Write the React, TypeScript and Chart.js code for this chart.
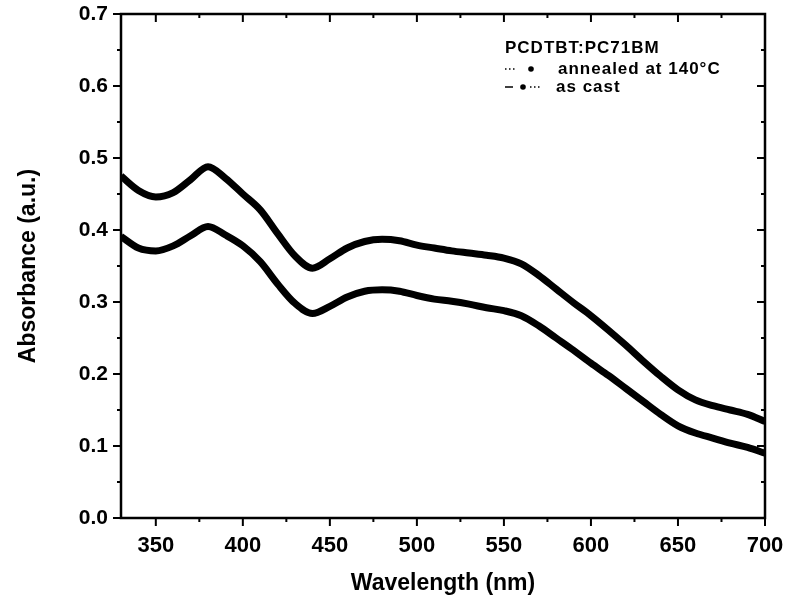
import React, { useEffect, useRef } from "react";
import { Chart, registerables } from "chart.js";

Chart.register(...registerables);

const wavelengths = [330, 340, 350, 360, 370, 380, 390, 400, 410, 420, 430, 440, 450, 460, 470, 480, 490, 500, 510, 520, 530, 540, 550, 560, 570, 580, 590, 600, 610, 620, 630, 640, 650, 660, 670, 680, 690, 700];
const annealed = [0.475, 0.455, 0.446, 0.452, 0.470, 0.488, 0.472, 0.450, 0.428, 0.395, 0.364, 0.347, 0.360, 0.375, 0.384, 0.387, 0.385, 0.379, 0.375, 0.371, 0.368, 0.365, 0.361, 0.353, 0.337, 0.318, 0.299, 0.281, 0.261, 0.240, 0.218, 0.197, 0.178, 0.164, 0.156, 0.150, 0.144, 0.134];
const asCast = [0.391, 0.375, 0.371, 0.378, 0.392, 0.405, 0.393, 0.378, 0.356, 0.325, 0.298, 0.284, 0.294, 0.307, 0.315, 0.317, 0.315, 0.309, 0.304, 0.301, 0.297, 0.292, 0.288, 0.281, 0.267, 0.250, 0.233, 0.215, 0.198, 0.180, 0.162, 0.144, 0.128, 0.118, 0.111, 0.104, 0.098, 0.090];
const legendTitle = "PCDTBT:PC71BM";
const seriesNames = ["annealed at 140°C", "as cast"];
const xMajor = [350, 400, 450, 500, 550, 600, 650, 700];
const xMinor = [375, 425, 475, 525, 575, 625, 675];
const yMajor = [0, 0.1, 0.2, 0.3, 0.4, 0.5, 0.6, 0.7];
const yMinor = [0.05, 0.15, 0.25, 0.35, 0.45, 0.55, 0.65];

const FONT = "'Liberation Sans', Arial, sans-serif";

const frameTicks = {
  id: "frameTicks",
  afterDraw(chart: any) {
    const ctx = chart.ctx;
    const x = chart.scales.x;
    const y = chart.scales.y;
    const { left, right, top, bottom } = chart.chartArea;
    ctx.save();
    ctx.strokeStyle = "#000";
    ctx.lineWidth = 2.5;
    ctx.strokeRect(left, top, right - left, bottom - top);
    ctx.lineWidth = 2;
    const major = 8, minor = 4;
    ctx.beginPath();
    xMajor.forEach((v) => {
      const px = x.getPixelForValue(v);
      ctx.moveTo(px, bottom); ctx.lineTo(px, bottom + major);
      ctx.moveTo(px, top); ctx.lineTo(px, top + major);
    });
    xMinor.forEach((v) => {
      const px = x.getPixelForValue(v);
      ctx.moveTo(px, bottom); ctx.lineTo(px, bottom + minor);
      ctx.moveTo(px, top); ctx.lineTo(px, top + minor);
    });
    yMajor.forEach((v) => {
      const py = y.getPixelForValue(v);
      ctx.moveTo(left, py); ctx.lineTo(left - major, py);
      ctx.moveTo(right, py); ctx.lineTo(right - major, py);
    });
    yMinor.forEach((v) => {
      const py = y.getPixelForValue(v);
      ctx.moveTo(left, py); ctx.lineTo(left - minor, py);
      ctx.moveTo(right, py); ctx.lineTo(right - minor, py);
    });
    ctx.stroke();

    // legend
    ctx.fillStyle = "#000";
    ctx.textBaseline = "middle";
    ctx.textAlign = "left";
    ctx.font = `bold 17px ${FONT}`;
    try { (ctx as any).letterSpacing = "1px"; } catch (e) {}
    ctx.fillText(legendTitle, 505, 48);
    ctx.fillText(seriesNames[0], 558, 69);
    ctx.fillText(seriesNames[1], 556, 87);
    try { (ctx as any).letterSpacing = "0px"; } catch (e) {}
    // samples
    ctx.lineWidth = 1.5;
    ctx.setLineDash([1.5, 2.5]);
    ctx.beginPath();
    ctx.moveTo(505, 69); ctx.lineTo(516, 69);
    ctx.moveTo(530, 87); ctx.lineTo(540, 87);
    ctx.stroke();
    ctx.setLineDash([]);
    ctx.beginPath();
    ctx.moveTo(505, 87); ctx.lineTo(513, 87);
    ctx.stroke();
    ctx.beginPath();
    ctx.arc(531, 69, 2.8, 0, Math.PI * 2);
    ctx.fill();
    ctx.beginPath();
    ctx.arc(523, 87, 2.8, 0, Math.PI * 2);
    ctx.fill();
    ctx.restore();
  },
};

export default function App() {
  const ref = useRef<HTMLCanvasElement>(null);
  useEffect(() => {
    if (!ref.current) return;
    const chart = new Chart(ref.current, {
      type: "line",
      data: {
        datasets: [
          {
            label: seriesNames[0],
            data: wavelengths.map((w, i) => ({ x: w, y: annealed[i] })),
            borderColor: "#000",
            borderWidth: 7,
            pointRadius: 0,
            tension: 0.4,
            cubicInterpolationMode: "monotone",
          },
          {
            label: seriesNames[1],
            data: wavelengths.map((w, i) => ({ x: w, y: asCast[i] })),
            borderColor: "#000",
            borderWidth: 7,
            pointRadius: 0,
            tension: 0.4,
            cubicInterpolationMode: "monotone",
          },
        ],
      },
      options: {
        animation: false,
        responsive: false,
        layout: { padding: { top: 14, right: 22, left: 0, bottom: 0 } },
        plugins: { legend: { display: false }, tooltip: { enabled: false } },
        scales: {
          x: {
            type: "linear",
            min: 330,
            max: 700,
            afterBuildTicks: (s: any) => {
              s.ticks = xMajor.map((v) => ({ value: v }));
            },
            afterFit: (s: any) => {
              s.height = 85;
              s.paddingLeft = 0;
              s.paddingRight = 0;
            },
            grid: { display: false, drawTicks: false },
            border: { display: false },
            ticks: {
              padding: 15,
              color: "#000",
              font: { family: FONT, size: 22, weight: "bold" },
              maxRotation: 0,
            },
            title: {
              display: true,
              text: "Wavelength (nm)",
              color: "#000",
              font: { family: FONT, size: 23, weight: "bold" },
              padding: { top: 6, bottom: 6 },
            },
          },
          y: {
            min: 0,
            max: 0.7,
            afterBuildTicks: (s: any) => {
              s.ticks = yMajor.map((v) => ({ value: v }));
            },
            afterFit: (s: any) => {
              s.width = 121;
              s.paddingTop = 0;
              s.paddingBottom = 0;
            },
            grid: { display: false, drawTicks: false },
            border: { display: false },
            ticks: {
              padding: 13,
              color: "#000",
              font: { family: FONT, size: 21, weight: "bold" },
              callback: (v: any) => Number(v).toFixed(1),
            },
            title: {
              display: true,
              text: "Absorbance (a.u.)",
              color: "#000",
              font: { family: FONT, size: 23, weight: "bold" },
              padding: { top: 15, bottom: 15 },
            },
          },
        },
      },
      plugins: [frameTicks],
    } as any);
    return () => chart.destroy();
  }, []);
  return (
    <div style={{ position: "fixed", left: 0, top: 0, width: 787, height: 603, background: "#fff" }}>
      <canvas ref={ref} width={787} height={603} style={{ display: "block" }} />
    </div>
  );
}
